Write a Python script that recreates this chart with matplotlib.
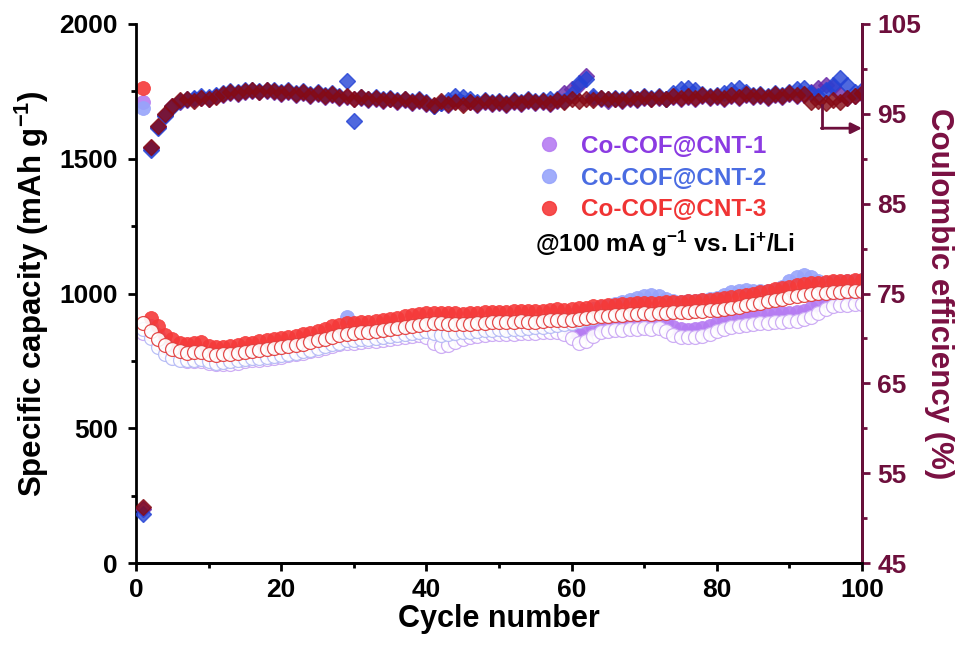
import numpy as np
import matplotlib.pyplot as plt
from matplotlib.lines import Line2D

plt.rcParams.update({
    'font.family': ['Liberation Sans', 'DejaVu Sans'],
    'font.weight': 'bold',
    'axes.labelweight': 'bold',
    'mathtext.fontset': 'custom',
    'mathtext.rm': 'Liberation Sans:bold',
    'mathtext.it': 'Liberation Sans:bold',
    'mathtext.bf': 'Liberation Sans:bold',
    'mathtext.default': 'rm',
})

cycles = np.arange(1, 101)

# discharge (filled) and charge (open) capacities, mAh g-1
cap1_dis = [1710, 880, 845, 815, 795, 785, 780, 778, 780, 770,
            765, 766, 768, 772, 776, 780, 783, 786, 790, 794,
            798, 802, 807, 813, 820, 827, 834, 840, 844, 846,
            848, 850, 852, 856, 860, 864, 868, 872, 874, 866,
            845, 835, 838, 850, 862, 868, 872, 875, 877, 878,
            877, 879, 881, 883, 884, 886, 888, 886, 880, 862,
            846, 852, 872, 885, 890, 893, 895, 897, 899, 900,
            898, 900, 890, 875, 868, 866, 868, 872, 880, 890,
            898, 905, 910, 915, 918, 920, 922, 924, 926, 928,
            930, 935, 945, 960, 975, 985, 990, 992, 994, 995]
cap1_chg = [855, 850, 815, 785, 766, 756, 751, 749, 751, 741,
            737, 738, 740, 744, 748, 752, 755, 758, 762, 766,
            770, 774, 779, 785, 792, 799, 806, 812, 816, 818,
            820, 822, 824, 828, 832, 836, 840, 844, 846, 838,
            815, 806, 809, 821, 833, 839, 843, 846, 848, 849,
            848, 850, 852, 854, 855, 857, 859, 857, 851, 834,
            818, 824, 843, 856, 861, 864, 866, 868, 870, 871,
            869, 871, 861, 846, 839, 837, 839, 843, 851, 861,
            868, 874, 879, 884, 887, 889, 891, 893, 895, 897,
            899, 904, 914, 928, 942, 952, 957, 959, 961, 962]
cap2_dis = [1690, 868, 828, 800, 786, 777, 774, 776, 778, 770,
            766, 768, 770, 774, 778, 781, 784, 787, 791, 794,
            798, 802, 807, 813, 820, 827, 834, 840, 912, 850,
            852, 854, 856, 860, 864, 868, 873, 877, 881, 883,
            872, 866, 868, 872, 876, 879, 882, 884, 886, 887,
            886, 888, 890, 892, 894, 897, 902, 908, 914, 920,
            928, 936, 944, 950, 955, 960, 968, 975, 982, 990,
            996, 992, 980, 972, 970, 972, 974, 976, 978, 985,
            995, 1005, 1010, 1012, 1010, 1008, 1008, 1014, 1025, 1045,
            1062, 1068, 1060, 1045, 1040, 1042, 1044, 1045, 1048, 1050]
cap2_chg = [870, 835, 800, 775, 762, 755, 752, 754, 756, 748,
            744, 746, 748, 752, 756, 759, 762, 765, 769, 772,
            776, 780, 785, 791, 798, 805, 812, 818, 826, 828,
            830, 832, 834, 838, 842, 846, 851, 855, 859, 861,
            852, 846, 848, 852, 856, 859, 862, 864, 866, 867,
            866, 868, 870, 872, 874, 876, 880, 884, 888, 892,
            898, 904, 910, 915, 920, 925, 932, 938, 945, 950,
            955, 952, 944, 938, 935, 937, 939, 941, 943, 950,
            958, 966, 972, 975, 974, 972, 972, 976, 985, 1000,
            1015, 1022, 1018, 1008, 1004, 1006, 1008, 1010, 1012, 1014]
cap3_dis = [1762, 910, 880, 845, 830, 815, 812, 818, 820, 805,
            800, 802, 805, 810, 815, 818, 822, 826, 830, 834,
            838, 842, 848, 855, 862, 870, 878, 885, 890, 892,
            894, 896, 898, 902, 906, 910, 915, 920, 924, 926,
            928, 928, 927, 926, 925, 926, 928, 930, 932, 933,
            932, 934, 936, 935, 934, 936, 940, 942, 940, 942,
            945, 948, 952, 955, 957, 958, 960, 962, 963, 965,
            964, 966, 968, 970, 970, 972, 974, 975, 976, 978,
            982, 986, 990, 995, 1000, 1005, 1010, 1015, 1020, 1025,
            1030, 1034, 1038, 1040, 1042, 1045, 1046, 1048, 1050, 1050]
cap3_chg = [890, 862, 832, 808, 795, 785, 780, 782, 784, 776,
            772, 774, 776, 780, 784, 787, 790, 793, 797, 800,
            804, 808, 813, 819, 826, 833, 840, 846, 851, 854,
            856, 858, 860, 864, 868, 872, 877, 881, 885, 887,
            889, 889, 888, 887, 886, 887, 889, 891, 893, 894,
            893, 895, 897, 896, 895, 897, 901, 903, 901, 903,
            906, 909, 913, 916, 918, 919, 921, 923, 924, 926,
            925, 927, 929, 931, 931, 933, 935, 936, 937, 939,
            943, 947, 951, 956, 961, 966, 971, 976, 981, 986,
            991, 995, 999, 1001, 1003, 1006, 1007, 1009, 1011, 1011]

# coulombic efficiency, %
ce1 = [51.0, 91.2, 93.5, 94.9, 95.9, 96.3, 96.5, 96.6, 96.8, 96.7,
       97.0, 97.1, 97.3, 97.2, 97.4, 97.5, 97.4, 97.5, 97.4, 97.2,
       97.4, 97.1, 97.3, 97.0, 97.2, 96.9, 97.1, 96.8, 96.9, 96.6,
       96.8, 96.5, 96.7, 96.4, 96.6, 96.3, 96.5, 96.2, 96.4, 96.1,
       95.9, 96.2, 96.0, 96.4, 96.2, 96.3, 96.0, 96.3, 96.1, 96.2,
       96.0, 96.3, 96.1, 96.4, 96.2, 96.3, 96.1, 96.4, 97.3, 97.8,
       98.2, 99.2, 96.8, 96.6, 96.4, 96.6, 96.4, 96.7, 96.5, 96.8,
       96.6, 96.8, 96.6, 96.9, 96.7, 96.9, 96.7, 97.0, 96.8, 96.9,
       96.7, 97.0, 96.8, 97.1, 96.9, 97.0, 96.8, 97.1, 96.9, 97.2,
       97.0, 97.1, 97.4, 97.9, 98.2, 98.0, 97.2, 96.8, 97.0, 97.2]
ce2 = [50.5, 91.0, 93.4, 94.8, 95.8, 96.4, 96.7, 96.8, 97.0, 96.9,
       97.1, 97.3, 97.5, 97.4, 97.6, 97.7, 97.5, 97.7, 97.6, 97.4,
       97.6, 97.3, 97.5, 97.2, 97.4, 97.1, 97.3, 97.0, 98.6, 94.2,
       96.9, 96.7, 96.9, 96.6, 96.8, 96.5, 96.7, 96.4, 96.6, 96.3,
       95.9, 96.2, 96.5, 97.0, 96.9, 96.6, 96.3, 96.5, 96.3, 96.4,
       96.2, 96.5, 96.3, 96.6, 96.4, 96.5, 96.7, 96.6, 96.4, 97.2,
       98.4, 98.9, 97.0, 96.8, 96.6, 96.8, 96.6, 96.9, 96.7, 97.0,
       96.8, 97.0, 96.6, 97.3, 97.8, 97.9, 97.6, 97.2, 97.0, 97.1,
       97.3, 97.6, 97.9, 97.4, 97.1, 97.2, 97.0, 97.3, 97.1, 97.4,
       97.8, 97.9, 97.3, 97.0, 97.6, 98.2, 99.0, 98.2, 97.4, 97.6]
ce3 = [51.2, 91.3, 93.6, 95.0, 95.9, 96.5, 96.6, 96.4, 96.8, 96.6,
       96.9, 97.2, 97.4, 97.3, 97.5, 97.6, 97.4, 97.6, 97.5, 97.3,
       97.5, 97.2, 97.4, 97.1, 97.3, 97.0, 97.2, 96.9, 97.0, 96.7,
       96.9, 96.6, 96.8, 96.5, 96.7, 96.4, 96.6, 96.3, 96.5, 96.2,
       96.0, 96.4, 96.1, 96.3, 96.0, 96.3, 96.1, 96.4, 96.2, 96.3,
       96.1, 96.4, 96.2, 96.5, 96.3, 96.4, 96.2, 96.5, 96.3, 96.6,
       96.4, 96.7, 96.5, 96.8, 96.6, 96.7, 96.5, 96.8, 96.6, 96.9,
       96.7, 96.9, 96.7, 97.0, 96.8, 97.0, 96.8, 97.1, 96.9, 97.0,
       96.8, 97.1, 96.9, 97.2, 97.0, 97.1, 96.9, 97.2, 97.0, 97.3,
       97.1, 97.2, 96.3, 96.4, 96.2, 96.5, 96.3, 96.8, 97.0, 97.3]

labels = ['Co-COF@CNT-1', 'Co-COF@CNT-2', 'Co-COF@CNT-3']
dot_colors = ['#b67cf2', '#97a4fb', '#f53a3a']
ring_colors = ['#c9a6f4', '#b3b9f5', '#e23a3a']
text_colors = ['#8b3be2', '#4a6ce2', '#f03434']
ce_colors = ['#6a2aa8', '#2443d6', '#860a14']
maroon = '#6d0f3c'

fig = plt.figure(figsize=(9.58, 6.5), dpi=100)
ax = fig.add_axes([0.142, 0.1338, 0.7578, 0.8293])
ax2 = ax.twinx()

for dis, chg, dc, rc in zip([cap1_dis, cap2_dis, cap3_dis],
                            [cap1_chg, cap2_chg, cap3_chg],
                            dot_colors, ring_colors):
    ax.plot(cycles, dis, ls='none', marker='o', ms=10, mfc=dc, mec=dc,
            mew=0.6, alpha=0.9)
    ax.plot(cycles, chg, ls='none', marker='o', ms=10, mfc='white', mec=rc,
            mew=0.9, alpha=0.9)

for ce, cc in zip([ce1, ce2, ce3], ce_colors):
    ax2.plot(cycles, ce, ls='none', marker='D', ms=8.5, mfc=cc, mec=cc,
             alpha=0.8)

# arrow pointing to the right-hand axis
ax2.plot([94.5, 94.5], [96.0, 93.4], color=maroon, lw=2)
ax2.annotate('', xy=(100, 93.4), xytext=(94.4, 93.4),
             arrowprops=dict(arrowstyle='-|>', color=maroon, lw=2,
                             mutation_scale=16, shrinkA=0, shrinkB=0))

ax.set_xlim(0, 100)
ax.set_ylim(0, 2000)
ax2.set_ylim(45, 105)
ax.set_xticks(np.arange(0, 101, 20))
ax.set_xticks(np.arange(10, 100, 20), minor=True)
ax.set_yticks(np.arange(0, 2001, 500))
ax.set_yticks(np.arange(250, 2000, 500), minor=True)
ax2.set_yticks(np.arange(45, 106, 10))
ax2.set_yticks(np.arange(50, 105, 10), minor=True)

for a in (ax, ax2):
    a.spines['top'].set_visible(False)
    for s in a.spines.values():
        s.set_linewidth(2)
ax.tick_params(axis='both', which='major', direction='out', length=6,
               width=2, labelsize=19, pad=5)
ax.tick_params(axis='y', which='major', pad=7)
ax.tick_params(axis='both', which='minor', direction='out', length=3.5,
               width=2)
ax2.tick_params(axis='y', which='major', direction='out', length=6,
                width=2, labelsize=19, colors=maroon, pad=5)
ax2.tick_params(axis='y', which='minor', direction='out', length=3.5,
                width=2, colors=maroon)
ax2.spines['right'].set_color(maroon)
ax2.spines['left'].set_visible(False)

ax.set_xlabel('Cycle number', fontsize=22, labelpad=1)
ax.set_ylabel(r'Specific capacity (mAh g$^{-1}$)', fontsize=22.5, labelpad=6)
ax2.set_ylabel('Coulombic efficiency (%)', fontsize=22.5, color='#7a1042',
               rotation=270, labelpad=24)

handles = [Line2D([], [], ls='none', marker='o', ms=10, mfc=c, mec=c,
                  alpha=0.9) for c in dot_colors]
leg = ax2.legend(handles, labels, loc='upper left',
                 bbox_to_anchor=(0.522, 0.835), frameon=False,
                 fontsize=17.5, handlelength=1.0, handletextpad=0.8,
                 labelspacing=0.36, labelcolor=text_colors)
ax2.text(0.5496, 0.592, r'@100 mA g$^{-1}$ vs. Li$^{+}$/Li',
         transform=ax2.transAxes, fontsize=17.5, ha='left', va='center')

fig.savefig('out.png', dpi=100)
